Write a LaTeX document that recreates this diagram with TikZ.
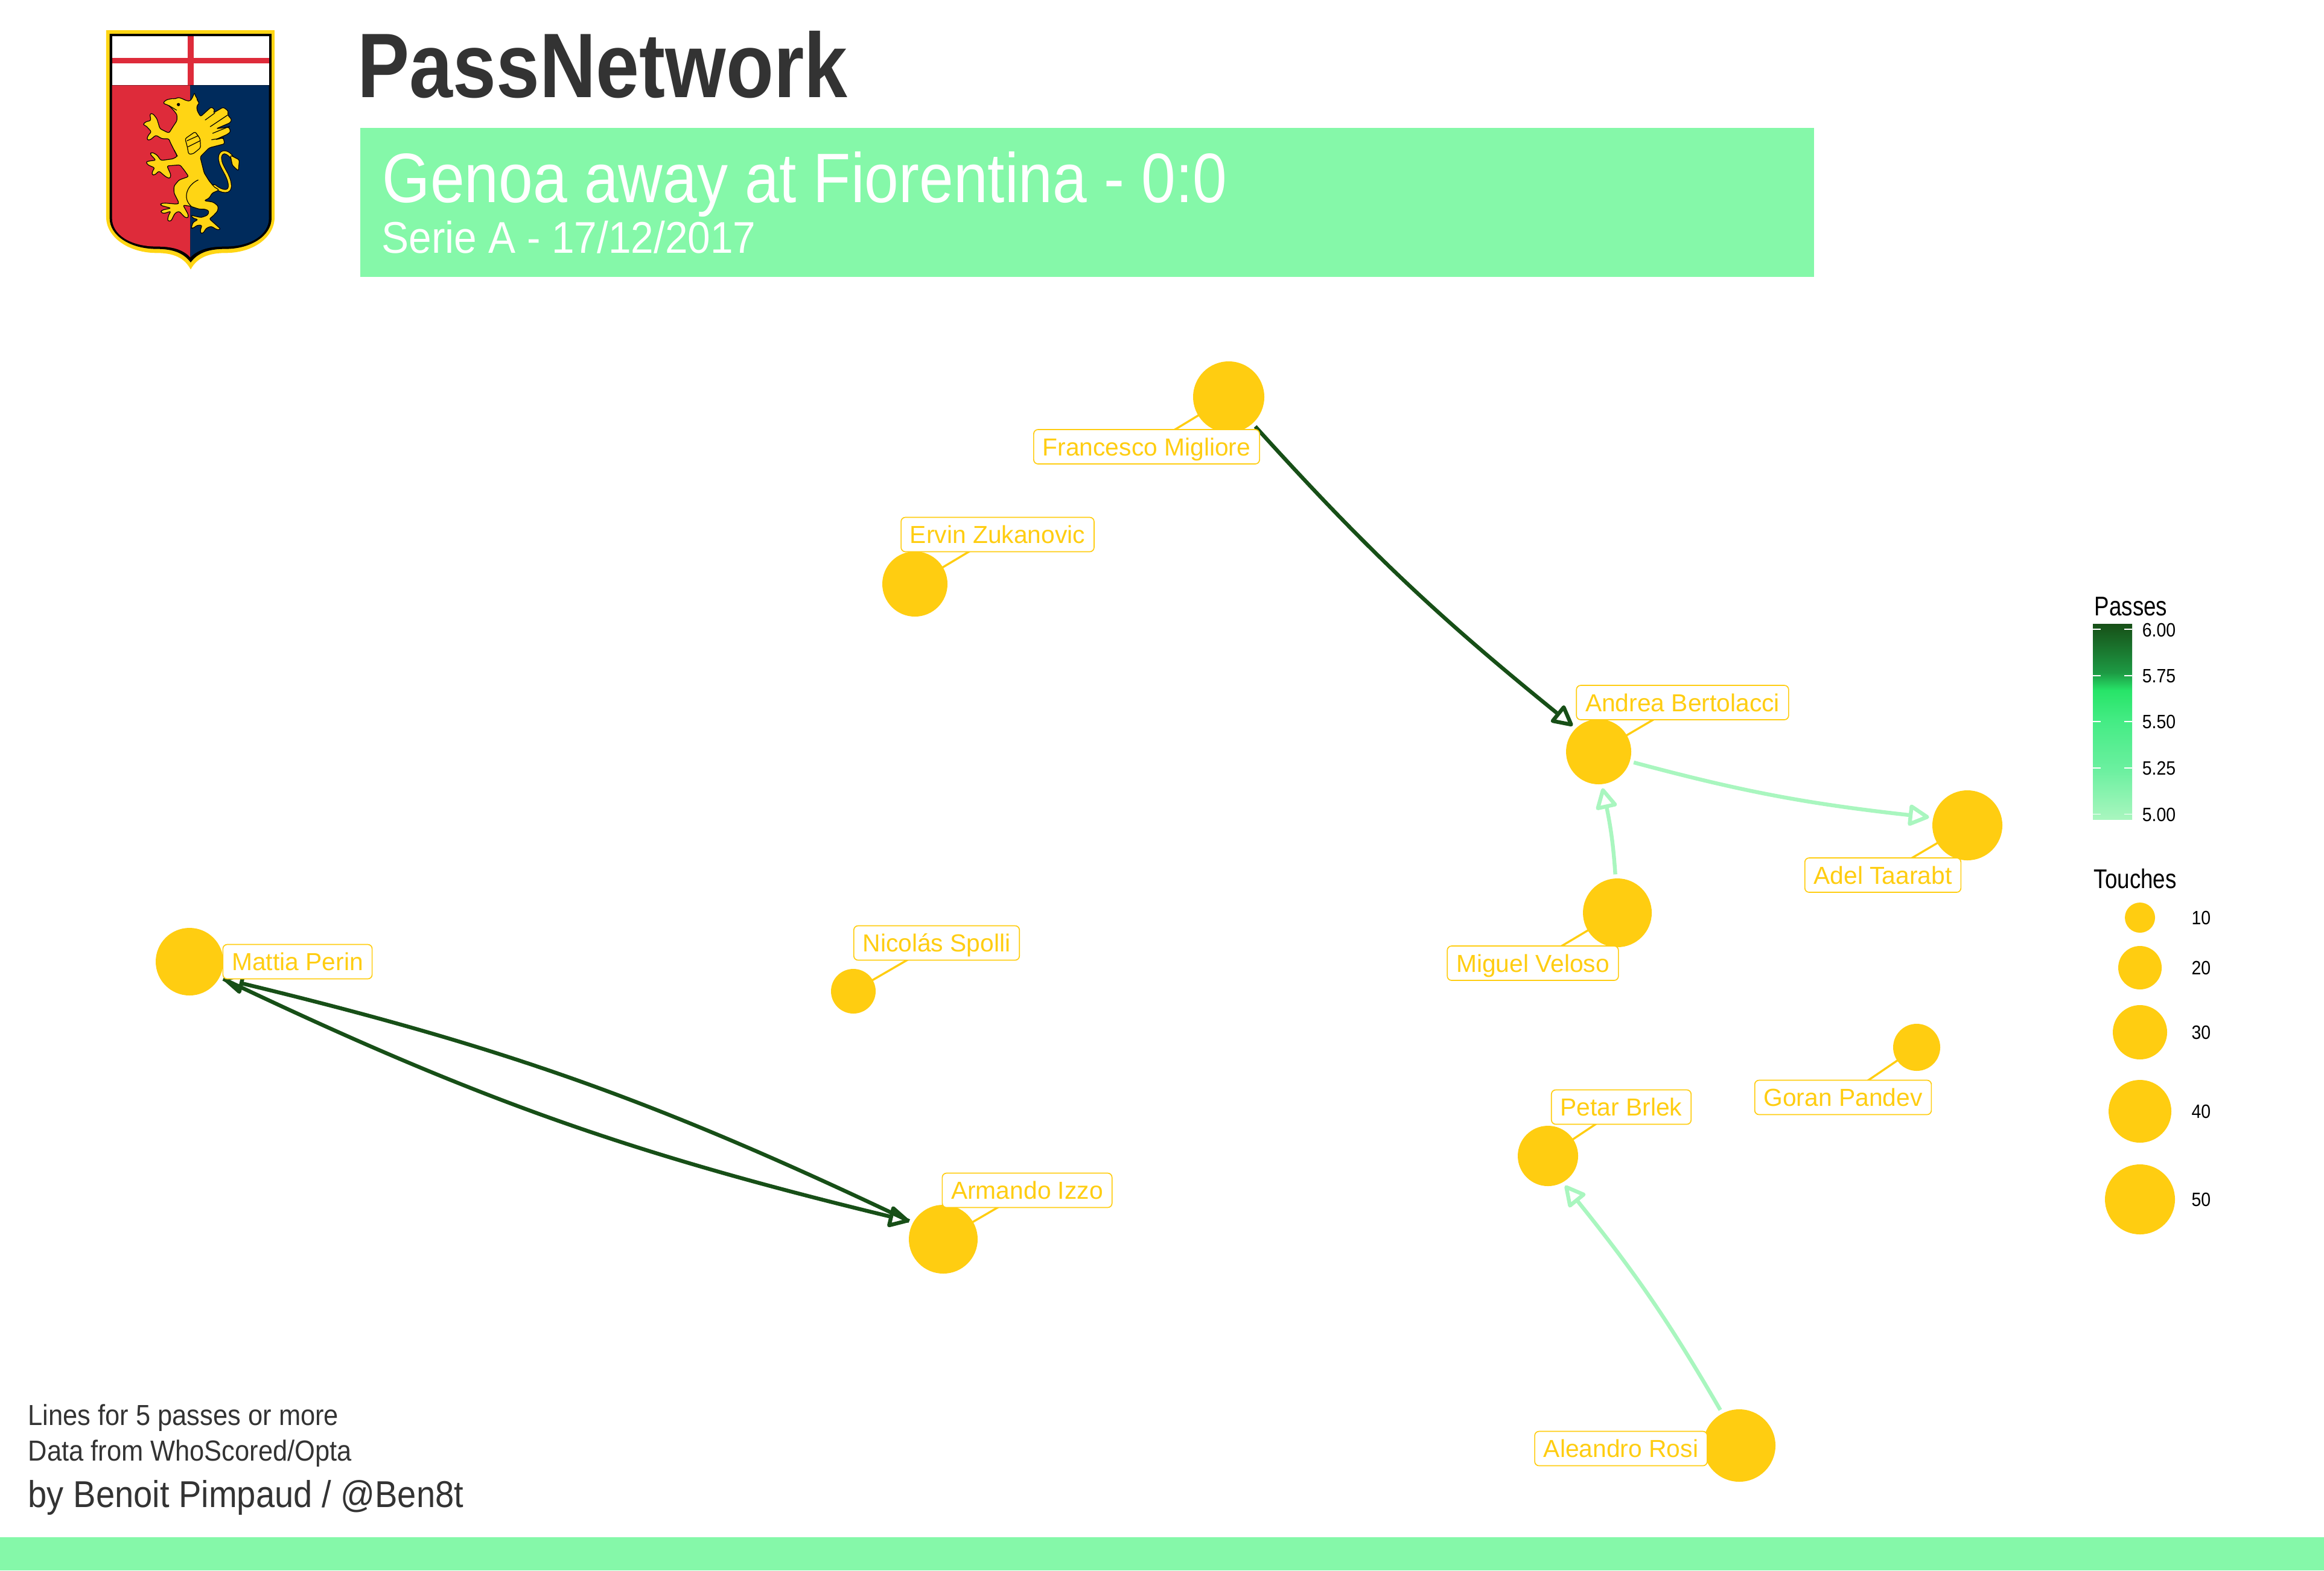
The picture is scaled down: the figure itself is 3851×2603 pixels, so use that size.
\documentclass[tikz,border=0pt]{standalone}
\usepackage{fontspec}
\usetikzlibrary{arrows.meta,bending}
\setmainfont{Liberation Sans}
\newfontfamily\ftitle[FakeStretch=0.85]{Liberation Sans Bold}
\newfontfamily\fhead[FakeStretch=0.879]{Liberation Sans}
\newfontfamily\fsub[FakeStretch=0.918]{Liberation Sans}
\newfontfamily\fnote[FakeStretch=0.905]{Liberation Sans}
\newfontfamily\flegend[FakeStretch=0.82]{Liberation Sans}
\newfontfamily\ftick[FakeStretch=0.89]{Liberation Sans}
\definecolor{gold}{HTML}{FFCD11}
\definecolor{band}{HTML}{85F8A9}
\definecolor{ink}{HTML}{333333}
\definecolor{passlow}{HTML}{A9F6BF}
\definecolor{passhigh}{HTML}{174F17}
\definecolor{barb}{HTML}{6CF0A0}
\definecolor{barc}{HTML}{45EC85}
\definecolor{bard}{HTML}{27E468}
\definecolor{bare}{HTML}{1D9A44}
\definecolor{crestred}{HTML}{DE2B3A}
\definecolor{crestblue}{HTML}{002B5C}
\definecolor{crestyellow}{HTML}{FFD514}
\pgfdeclareverticalshading{passbar}{100bp}{color(0bp)=(passlow); color(25bp)=(passlow); color(37.5bp)=(barb); color(50bp)=(barc); color(58bp)=(bard); color(62.5bp)=(bare); color(75bp)=(passhigh); color(100bp)=(passhigh)}
\pgfdeclarelayer{bg}
\pgfsetlayers{bg,main}
\tikzset{
  player/.style={circle,fill=gold,draw=none,inner sep=0pt,outer sep=1.7pt,minimum size=#1*0.5pt},
  keydot/.style={circle,fill=gold,draw=none,inner sep=0pt,minimum size=#1*0.5pt},
  namebox/.style={rectangle,rounded corners=1.8pt,draw=gold,line width=0.42pt,fill=white,text=gold,font=\fontsize{10.2pt}{12pt}\selectfont,inner xsep=3.7pt,inner ysep=3.5pt,text height=7.25pt,text depth=0pt},
  leader/.style={draw=gold,line width=0.85pt},
  pass/.style={line width=1.6pt,-{Triangle[open,length=9.5pt,width=9.5pt,round]}},
  passstrong/.style={pass,draw=passhigh},
  passweak/.style={pass,draw=passlow},
  griffin/.style={fill=crestyellow,draw=black,line width=0.3pt,rounded corners=0.7pt,line join=round},
  griffinline/.style={draw=black,line width=0.3pt,line cap=round},
  tickmark/.style={draw=white,line width=0.3pt},
  titletext/.style={anchor=base west,inner sep=0pt,text=ink},
  headtext/.style={anchor=base west,inner sep=0pt,text=white},
  legendtitle/.style={anchor=base west,inner sep=0pt,text=black,font=\flegend\fontsize{11.2pt}{13pt}\selectfont},
  ticktext/.style={inner sep=0pt,text=black,font=\ftick\fontsize{8pt}{10pt}\selectfont},
}
\begin{document}
\begin{tikzpicture}[x=0.25pt,y=-0.25pt]
\useasboundingbox (0,0) rectangle (3851,2603);
% header and footer bands
\fill[band] (597,212) rectangle (3006,459);
\fill[band] (0,2548) rectangle (3851,2603);
\node[titletext,font=\ftitle\fontsize{38pt}{40pt}\selectfont] (title) at (592,161) {PassNetwork};
\node[headtext,font=\fhead\fontsize{29pt}{31pt}\selectfont] (head) at (633,335) {Genoa away at Fiorentina - 0:0};
\node[headtext,font=\fsub\fontsize{18.4pt}{20pt}\selectfont] (sub) at (632,419) {Serie A - 17/12/2017};
\node[titletext,font=\fnote\fontsize{12pt}{14pt}\selectfont] (note1) at (46,2362) {Lines for 5 passes or more};
\node[titletext,font=\fnote\fontsize{12pt}{14pt}\selectfont] (note2) at (46,2421) {Data from WhoScored/Opta};
\node[titletext,font=\fnote\fontsize{15.5pt}{17pt}\selectfont] (note3) at (46,2498) {by Benoit Pimpaud / @Ben8t};
% crest
\begin{scope}[shift={(120,0)},x=0.083333pt,y=-0.083333pt]
\fill[crestyellow] (168,150) -- (1005,150) -- (1005,1080) .. controls (1005,1180) and (900,1258) .. (760,1258) .. controls (680,1258) and (620,1280) .. (588,1340) .. controls (556,1280) and (500,1258) .. (420,1258) .. controls (280,1258) and (168,1180) .. (168,1080) -- cycle;
\fill[black] (185,168) -- (990,168) -- (990,1085) .. controls (990,1170) and (890,1238) .. (760,1238) .. controls (680,1238) and (625,1255) .. (588,1305) .. controls (550,1255) and (495,1238) .. (420,1238) .. controls (285,1238) and (185,1170) .. (185,1085) -- cycle;
\fill[crestred] (197,424) -- (586,424) -- (586,1280) .. controls (550,1240) and (495,1226) .. (420,1226) .. controls (285,1226) and (197,1165) .. (197,1085) -- cycle;
\fill[crestblue] (586,424) -- (977,424) -- (977,1085) .. controls (977,1165) and (890,1226) .. (760,1226) .. controls (680,1226) and (625,1240) .. (586,1280) -- cycle;
\fill[white] (197,180) rectangle (977,424);
\fill[crestred] (572,180) rectangle (602,424);
\fill[crestred] (197,287) rectangle (977,316);
% griffin tail
\draw[black,line width=1.55pt,line cap=round,line join=round] (705,925) .. controls (740,955) and (790,965) .. (782,915) .. controls (775,860) and (725,820) .. (735,775) .. controls (742,750) and (770,750) .. (795,785);
\draw[crestyellow,line width=0.95pt,line cap=round,line join=round] (705,925) .. controls (740,955) and (790,965) .. (782,915) .. controls (775,860) and (725,820) .. (735,775) .. controls (742,750) and (770,750) .. (795,785);
\draw[griffin] (785,772) -- (830,795) -- (825,850) -- (795,822) -- cycle;
% griffin body
\draw[griffin] (450,513) -- (465,497) -- (495,490) -- (512,492) -- (525,484) -- (545,490) -- (565,500) -- (585,503) -- (597,485) -- (607,460) -- (612,480) -- (622,490) -- (620,502) -- (632,510) -- (618,528) -- (620,550) -- (637,580) -- (690,532) -- (708,545) -- (700,562) -- (750,533) -- (775,552) -- (772,572) -- (792,595) -- (785,610) -- (715,640) -- (778,632) -- (787,655) -- (770,668) -- (710,695) -- (750,685) -- (757,715) -- (680,735) -- (635,780) -- (640,800) -- (655,860) -- (680,900) -- (705,930) -- (730,945) -- (695,960) -- (680,985) -- (655,998) -- (700,1005) -- (725,1025) -- (722,1050) -- (695,1078) -- (680,1088) -- (705,1110) -- (738,1140) -- (720,1143) -- (690,1125) -- (665,1135) -- (650,1160) -- (636,1160) -- (637,1140) -- (645,1120) -- (620,1120) -- (600,1135) -- (590,1135) -- (600,1105) -- (625,1092) -- (600,1085) -- (588,1070) -- (640,1082) -- (672,1070) -- (680,1050) -- (660,1040) -- (630,1040) -- (585,1025) -- (550,1020) -- (575,1065) -- (577,1083) -- (560,1082) -- (530,1050) -- (510,1060) -- (490,1100) -- (472,1098) -- (478,1070) -- (490,1050) -- (455,1062) -- (438,1055) -- (445,1045) -- (490,1035) -- (440,1022) -- (438,1012) -- (462,1010) -- (520,1015) -- (530,1010) -- (505,960) -- (505,925) -- (530,895) -- (578,878) -- (555,845) -- (535,820) -- (470,825) -- (490,870) -- (485,888) -- (465,880) -- (430,850) -- (410,870) -- (395,870) -- (398,850) -- (410,835) -- (375,820) -- (365,805) -- (385,800) -- (415,797) -- (385,765) -- (395,757) -- (420,770) -- (440,798) -- (500,790) -- (522,777) -- (505,745) -- (485,705) -- (480,690) -- (445,690) -- (415,672) -- (385,697) -- (370,695) -- (375,675) -- (393,655) -- (365,625) -- (350,620) -- (365,605) -- (390,600) -- (385,565) -- (400,565) -- (420,590) -- (435,640) -- (480,662) -- (500,630) -- (520,600) -- (520,570) -- (500,545) -- (480,525) -- cycle;
\draw[griffin] (560,690) -- (610,655) -- (635,690) -- (637,735) -- (600,765) -- (578,767) -- (570,725) -- cycle;
\draw[griffinline] (660,597) -- (708,562);
\draw[griffinline] (685,630) -- (772,572);
\draw[griffinline] (697,663) -- (782,628);
\draw[griffinline] (692,695) -- (752,685);
\draw[griffinline] (570,700) -- (625,675);
\draw[griffinline] (575,730) -- (635,700);
\draw[griffinline] (505,745) -- (522,777);
\draw[griffinline] (625,895) .. controls (570,920) and (545,985) .. (590,1025);
\draw[griffinline] (480,525) -- (518,548);
\fill[black] (527,520) circle[radius=8];
\end{scope}
% players
\node[player=59] (mig) at (2036,658) {};
\node[player=54] (zuk) at (1516,968) {};
\node[player=54] (ber) at (2649,1246) {};
\node[player=58] (taa) at (3260,1368) {};
\node[player=57] (vel) at (2680,1513) {};
\node[player=56] (per) at (314,1594) {};
\node[player=37] (spo) at (1414,1643) {};
\node[player=57] (izz) at (1563,2054) {};
\node[player=50] (brl) at (2565,1916) {};
\node[player=39] (pan) at (3176,1736) {};
\node[player=60] (ros) at (2882,2396) {};
% labels
\node[namebox] (lmig) at (1900,740.5) {Francesco Migliore};
\node[namebox] (lzuk) at (1653,886) {Ervin Zukanovic};
\node[namebox] (lber) at (2788,1164.5) {Andrea Bertolacci};
\node[namebox] (ltaa) at (3120,1450.5) {Adel Taarabt};
\node[namebox] (lvel) at (2540,1596.5) {Miguel Veloso};
\node[namebox] (lper) at (493,1594) {Mattia Perin};
\node[namebox] (lspo) at (1552,1563) {Nicolás Spolli};
\node[namebox] (lizz) at (1702,1973) {Armando Izzo};
\node[namebox] (lbrl) at (2686.5,1835) {Petar Brlek};
\node[namebox] (lpan) at (3054,1819) {Goran Pandev};
\node[namebox] (lros) at (2686,2401) {Aleandro Rosi};
\begin{pgfonlayer}{bg}
\foreach \a/\b in {mig/lmig,zuk/lzuk,ber/lber,taa/ltaa,vel/lvel,spo/lspo,izz/lizz,brl/lbrl,pan/lpan}
  \draw[leader] (\a.center) -- (\b.center);
\draw[passstrong] (mig.-48) to[bend right=4.5] (ber.135.6);
\draw[passstrong] (per.-27.5) to[bend right=6] (izz.152.5);
\draw[passstrong] (izz.152.5) to[bend right=6] (per.-27.5);
\draw[passweak] (ber.-17.5) to[bend right=4.5] (taa.168.7);
\draw[passweak] (vel.93) to[bend right=4.5] (ber.-84);
\draw[passweak] (ros.118.5) to[bend right=4.5] (brl.-60);
\end{pgfonlayer}
% legend: passes
\node[legendtitle] (lgpass) at (3470,1020) {Passes};
\fill[shading=passbar] (3468,1034) rectangle (3533,1358);
\foreach \yy in {1043,1120,1196,1273,1349.5} {
  \draw[tickmark] (3468,\yy) -- (3481,\yy);
  \draw[tickmark] (3520,\yy) -- (3533,\yy);
}
\node[ticktext,anchor=base west] (t600) at (3549,1055) {6.00};
\node[ticktext,anchor=base west] (t575) at (3549,1131.5) {5.75};
\node[ticktext,anchor=base west] (t550) at (3549,1207.5) {5.50};
\node[ticktext,anchor=base west] (t525) at (3549,1284.5) {5.25};
\node[ticktext,anchor=base west] (t500) at (3549,1361) {5.00};
% legend: touches
\node[legendtitle] (lgtouch) at (3469,1472.5) {Touches};
\node[keydot=25] (k10) at (3546,1521) {};
\node[keydot=36] (k20) at (3546,1604) {};
\node[keydot=45] (k30) at (3546,1711) {};
\node[keydot=52] (k40) at (3546,1842) {};
\node[keydot=58] (k50) at (3546,1988) {};
\node[ticktext,anchor=base east] (n10) at (3664,1532.5) {10};
\node[ticktext,anchor=base east] (n20) at (3664,1615.5) {20};
\node[ticktext,anchor=base east] (n30) at (3664,1722.5) {30};
\node[ticktext,anchor=base east] (n40) at (3664,1853.5) {40};
\node[ticktext,anchor=base east] (n50) at (3664,1999.5) {50};
\end{tikzpicture}
\end{document}
